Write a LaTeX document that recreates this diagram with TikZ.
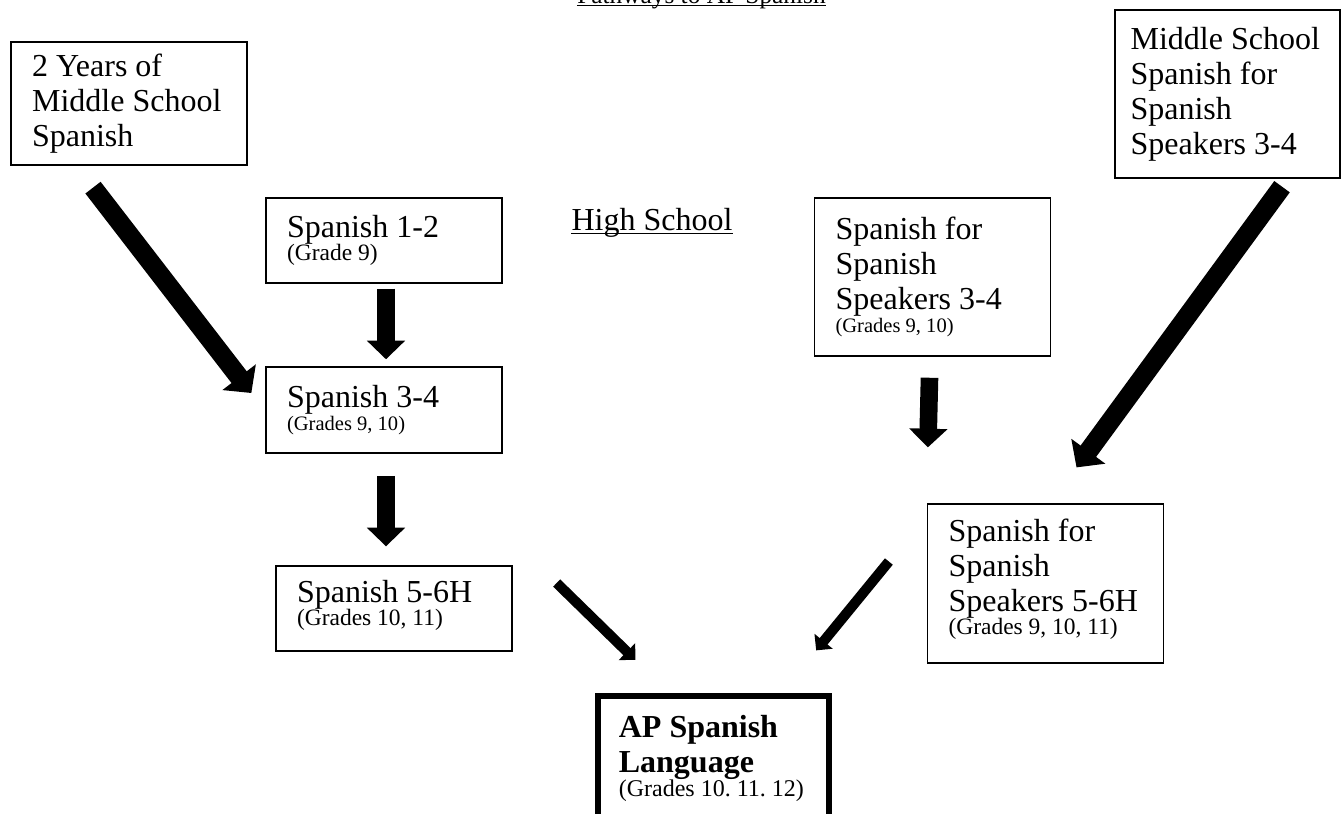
\documentclass[tikz,border=0pt]{standalone}
\usepackage{fontspec}
\setmainfont{Liberation Serif}
\usetikzlibrary{arrows.meta}

\newcommand{\gradeFont}{\fontsize{8.8pt}{10pt}\selectfont}
\newcommand{\gradeFontSm}{\fontsize{7.7pt}{9pt}\selectfont}

\tikzstyle{courseNode} = [rectangle, draw=black, line width=0.5pt, align=flush left, inner ysep=0pt, inner xsep=7.9pt, text width=72.7pt, font=\fontsize{12pt}{13.1pt}\selectfont]
\tikzstyle{apNode} = [courseNode, line width=2.2pt, text width=71pt]
\tikzstyle{heading} = [inner sep=0pt, anchor=base]
\tikzstyle{heavyArrow} = [line width=7.2pt, -{Triangle[length=7.5pt,width=15.4pt]}]
\tikzstyle{mediumArrow} = [line width=6.6pt, -{Triangle[length=7pt,width=14pt]}]
\tikzstyle{thinArrow} = [line width=3.8pt, -{Triangle[length=4.4pt,width=8.6pt]}]

\begin{document}
\frenchspacing
\begin{tikzpicture}[x=0.375pt, y=-0.375pt]
    \useasboundingbox (0,0) rectangle (1343,813);

    % headings
    \node (title)[heading, font=\fontsize{9.5pt}{11pt}\selectfont] at (701.5,3) {Pathways to AP Spanish};
    \draw [line width=0.6pt] ([yshift=-1pt]title.base west) -- ([yshift=-1pt]title.base east);
    \node (highSchool)[heading, font=\fontsize{12pt}{13.1pt}\selectfont] at (652,230) {High School};
    \draw [line width=0.7pt] ([yshift=-1.3pt]highSchool.base west) -- ([yshift=-1.3pt]highSchool.base east);

    % middle school
    \node (msSpanish)[courseNode, minimum height=46.1pt] at (129,103.5) {2 Years of\\Middle School\\Spanish};
    \node (msSpeakers)[courseNode, inner xsep=5.8pt, minimum height=63pt] at (1227.5,94) {Middle School\\Spanish for\\Spanish\\Speakers 3-4};

    % high school
    \node (spanish12)[courseNode, minimum height=31.9pt] at (384,240.5) {Spanish 1-2\\[-4.6pt]{\gradeFont (Grade 9)}};
    \node (spanish34)[courseNode, minimum height=32.3pt] at (384,410) {Spanish 3-4\\[-4.6pt]{\gradeFontSm (Grades 9, 10)}};
    \node (spanish56)[courseNode, minimum height=31.9pt, text depth=12.6pt] at (394,608.5) {Spanish 5-6H\\[-4.6pt]{\gradeFont (Grades 10, 11)}};
    \node (speakers34)[courseNode, minimum height=59.3pt] at (932.5,277) {Spanish for\\Spanish\\Speakers 3-4\\[-4.6pt]{\gradeFontSm (Grades 9, 10)}};
    \node (speakers56)[courseNode, minimum height=59.6pt, text depth=39.6pt] at (1045.5,583.5) {Spanish for\\Spanish\\Speakers 5-6H\\[-4.6pt]{\gradeFont (Grades 9, 10, 11)}};
    \node (apLanguage)[apNode, minimum height=46.9pt] at (713.5,758.3) {\textbf{AP Spanish}\\\textbf{Language}\\[-4.3pt]{\fontsize{9pt}{10pt}\selectfont (Grades 10. 11. 12)}};

    % arrows
    \draw [heavyArrow] ([shift={(-36,22)}]msSpanish.south) -- ([shift={(-14,-17)}]spanish34.west);
    \draw [heavyArrow] ([shift={(54.5,8)}]msSpeakers.south) -- ([shift={(31,-36)}]speakers56.north);
    \draw [mediumArrow] ([shift={(2,5)}]spanish12.south) -- ([shift={(2,-7)}]spanish34.north);
    \draw [mediumArrow] ([shift={(2,22)}]spanish34.south) -- ([shift={(-8,-19)}]spanish56.north);
    \draw [mediumArrow] ([shift={(-3,21)}]speakers34.south) -- ([shift={(1,-56)}]speakers56.north west);
    \draw [thinArrow] ([shift={(44,-25.5)}]spanish56.east) -- ([shift={(40.5,-33)}]apLanguage.north west);
    \draw [thinArrow] ([shift={(-38,-22)}]speakers56.west) -- ([shift={(-16,-42.5)}]apLanguage.north east);
\end{tikzpicture}
\end{document}
